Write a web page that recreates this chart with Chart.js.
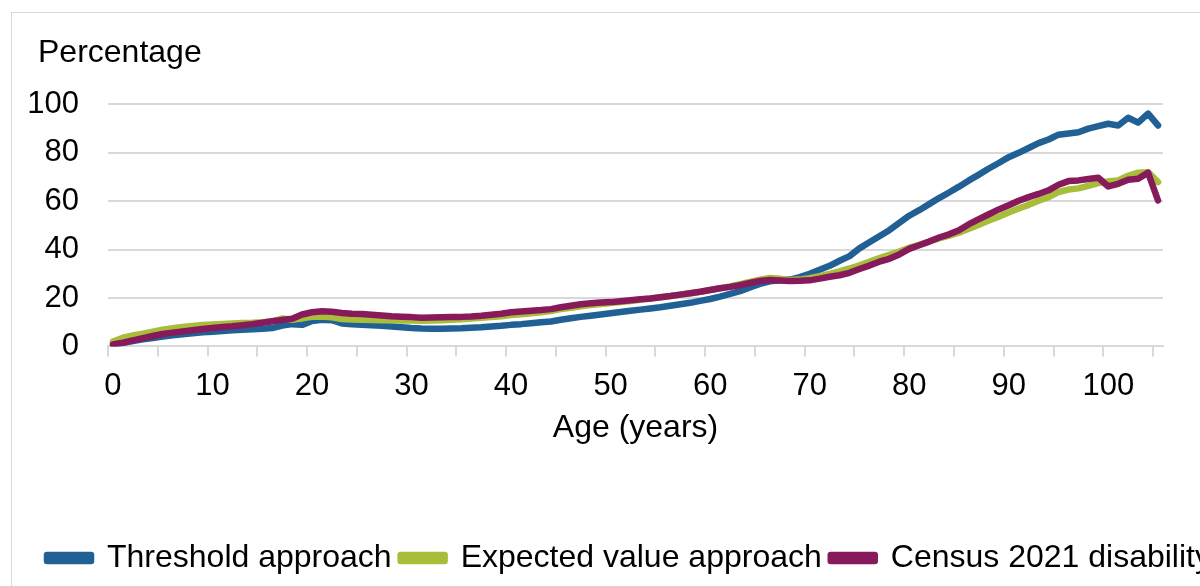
<!DOCTYPE html>
<html>
<head>
<meta charset="utf-8">
<script src="https://cdn.jsdelivr.net/npm/chart.js@4"></script>
<style>
html,body{margin:0;padding:0;background:#fff;overflow:hidden;width:1200px;height:586px;}
#frame{position:absolute;left:11px;top:12px;width:1400px;height:800px;border:1px solid #d9d9d9;box-sizing:border-box;}
#wrap{position:absolute;left:0;top:0;width:1280px;height:586px;}
</style>
</head>
<body>
<div id="frame"></div>
<div id="wrap"><canvas id="chart" width="1280" height="586"></canvas></div>
<script>
// ===== DATA =====
const ages = [];
for (let a = 0; a <= 105; a++) ages.push(a);

const thresholdApproach = [
  1.0,1.5,2.2,2.9,3.5,4.1,4.6,5.0,5.4,5.8,
  6.1,6.4,6.7,6.9,7.1,7.3,7.6,8.6,9.2,8.9,
  10.5,11.0,10.8,9.5,9.2,8.9,8.7,8.5,8.2,7.9,
  7.6,7.4,7.3,7.3,7.4,7.5,7.7,7.9,8.2,8.5,
  8.9,9.2,9.6,10.0,10.3,11.0,11.6,12.2,12.7,13.2,
  13.7,14.2,14.7,15.2,15.7,16.2,16.8,17.4,18.0,18.8,
  19.6,20.6,21.7,22.8,24.4,25.8,26.9,27.3,27.6,28.6,
  30.0,31.7,33.3,35.4,37.3,40.5,43.0,45.5,48.0,51.0,
  54.0,56.3,58.8,61.3,63.6,66.0,68.6,71.0,73.5,75.8,
  78.2,80.0,82.0,84.0,85.5,87.5,88.0,88.5,90.0,91.0,
  92.0,91.3,94.5,92.5,96.2,91.3
];
const expectedValueApproach = [
  2.0,3.6,4.5,5.3,6.1,6.9,7.5,8.0,8.4,8.8,
  9.1,9.3,9.5,9.7,9.8,10.0,10.3,11.5,11.0,11.6,
  12.2,12.4,12.0,11.3,11.1,11.0,10.9,10.8,10.8,10.7,
  10.7,10.6,10.7,10.8,11.0,11.2,11.5,11.8,12.1,12.5,
  13.0,13.3,13.7,14.1,14.6,15.4,16.0,16.6,17.1,17.5,
  17.9,18.3,18.8,19.3,19.8,20.3,20.8,21.4,22.0,22.6,
  23.3,24.0,24.8,25.7,26.6,27.6,28.3,28.0,27.4,27.6,
  28.2,29.0,30.0,31.0,32.2,33.5,35.0,36.5,37.8,39.2,
  40.8,42.0,43.3,44.6,45.8,47.0,48.6,50.3,52.0,53.6,
  55.3,57.0,58.5,60.2,61.7,63.8,64.8,65.3,66.3,67.5,
  68.2,68.6,70.5,71.8,72.0,67.9
];
const census2021 = [
  0.8,1.5,2.5,3.4,4.3,5.1,5.7,6.2,6.7,7.2,
  7.6,8.0,8.3,8.7,9.2,9.8,10.4,10.9,11.4,13.2,
  14.1,14.5,14.3,13.8,13.5,13.4,13.1,12.8,12.5,12.3,
  12.1,11.8,11.9,12.0,12.1,12.2,12.4,12.7,13.1,13.5,
  14.1,14.4,14.7,15.0,15.4,16.2,16.8,17.4,17.8,18.1,
  18.3,18.7,19.1,19.5,19.8,20.3,20.8,21.4,22.0,22.6,
  23.3,24.0,24.6,25.3,26.2,27.0,27.4,27.2,27.0,27.1,
  27.3,28.0,28.8,29.4,30.4,32.0,33.4,35.0,36.2,38.0,
  40.3,41.8,43.3,45.0,46.3,48.0,50.5,52.6,54.6,56.6,
  58.3,60.2,61.7,63.0,64.5,66.8,68.3,68.6,69.2,69.7,
  66.1,67.2,68.9,69.3,71.8,60.3
];
const yTicks = [0, 20, 40, 60, 80, 100];

// ===== STYLE =====
const FONT = "'Liberation Sans', Arial, sans-serif";
const GRID = '#d9d9d9';

function series(label, data, color, order) {
  return {
    label: label, data: data, order: order,
    borderColor: color, backgroundColor: color,
    borderWidth: 6.5, pointRadius: 0, tension: 0,
    borderCapStyle: 'round', borderJoinStyle: 'round'
  };
}

// ===== CHART =====
new Chart(document.getElementById('chart'), {
  type: 'line',
  data: {
    labels: ages,
    datasets: [
      series('Threshold approach', thresholdApproach, '#206095', 2),
      series('Expected value approach', expectedValueApproach, '#a8bd3a', 1),
      series('Census 2021 disability', census2021, '#871a5b', 0)
    ]
  },
  options: {
    responsive: false,
    animation: false,
    events: [],
    layout: { padding: { left: 38, right: 0, top: 0, bottom: 2 } },
    font: { family: FONT },
    plugins: {
      tooltip: { enabled: false },
      title: {
        display: true, text: 'Percentage', align: 'start', color: '#000',
        font: { family: FONT, size: 32, weight: 'normal' },
        padding: { top: 34, bottom: 32 }
      },
      legend: {
        position: 'bottom', align: 'start',
        labels: {
          color: '#000', boxWidth: 44, boxHeight: 6, padding: 9,
          font: { family: FONT, size: 32 },
          sort: (a, b) => a.datasetIndex - b.datasetIndex
        }
      }
    },
    scales: {
      x: {
        type: 'category', offset: true,
        border: { display: true, color: GRID, width: 2 },
        grid: {
          offset: true, drawOnChartArea: false, drawTicks: true, tickLength: 10,
          lineWidth: 2,
          color: ctx => (ctx.index % 5 === 0 ? GRID : 'rgba(0,0,0,0)')
        },
        ticks: {
          autoSkip: false, maxRotation: 0, padding: 11, color: '#000',
          font: { family: FONT, size: 31 },
          callback: function (v, i) { return ages[i] % 10 === 0 ? String(ages[i]) : ''; }
        },
        title: {
          display: true, text: 'Age (years)', color: '#000',
          font: { family: FONT, size: 32 },
          padding: { top: -7, bottom: 86 }
        }
      },
      y: {
        min: 0, max: 100,
        border: { display: false },
        grid: { color: GRID, lineWidth: 2, drawTicks: false },
        afterBuildTicks: s => { s.ticks = yTicks.map(v => ({ value: v })); },
        afterFit: s => {
          s.width = 70;
          // labels hang left of the narrow axis box, so don't clip them
          s._computeLabelArea = () => undefined;
        },
        ticks: { padding: 29, color: '#000', font: { family: FONT, size: 31 } }
      },
      yRight: {
        position: 'right', display: true,
        border: { display: false },
        grid: { display: false, drawTicks: false },
        ticks: { display: false },
        afterFit: s => { s.width = 1280 - 1163; }
      }
    }
  }
});
</script>
</body>
</html>
